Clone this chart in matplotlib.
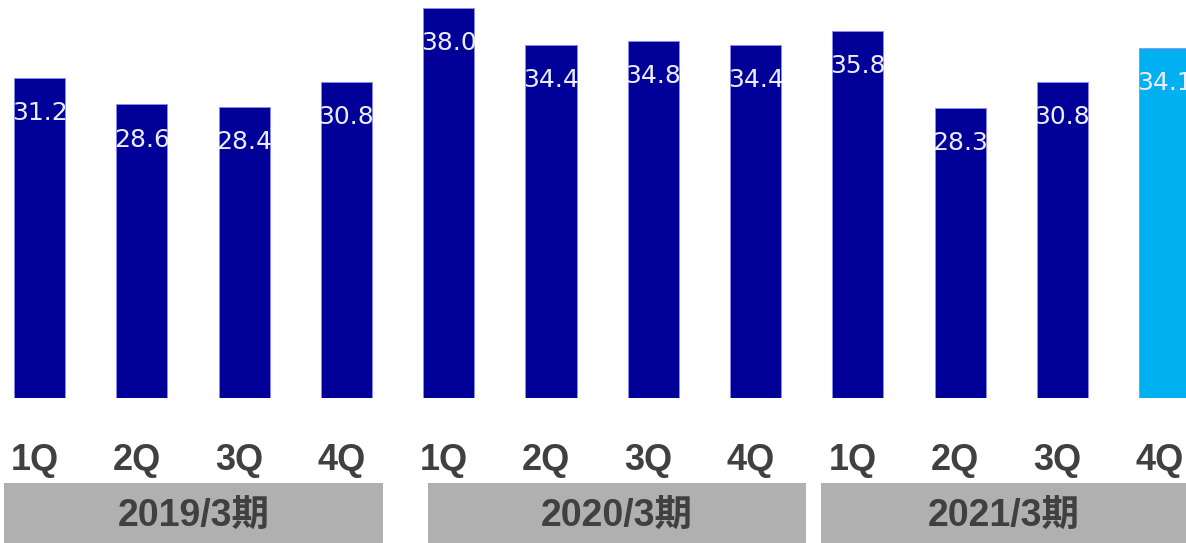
import numpy as np
import matplotlib.pyplot as plt
import matplotlib as mpl
from matplotlib.patches import Rectangle

# data
quarters = ['1Q', '2Q', '3Q', '4Q'] * 3
values = [31.2, 28.6, 28.4, 30.8, 38.0, 34.4, 34.8, 34.4, 35.8, 28.3, 30.8, 34.1]
years = ['2019/3期', '2020/3期', '2021/3期']
year_spans = [(-0.347, 3.358), (3.797, 7.493), (7.64, 11.3)]  # box edges in bar units

dark = '#000099'
light = '#00B0F0'
colors = [dark] * 11 + [light]

W, H = 1186, 543
fig = plt.figure(figsize=(W / 100, H / 100), dpi=100)
ax = fig.add_axes([0, 145 / H, 1, 398 / H])

x = np.arange(len(values))
ax.bar(x, values, width=0.5, color=colors, edgecolor='#8c8cf0', linewidth=0.6)
ax.set_xlim(-39.5 / 102.3, (W - 39.5) / 102.3)
ax.set_ylim(0, 38.0 * 398 / 390)
ax.axis('off')

# value labels inside the bars
for xi, v in zip(x, values):
    ax.annotate(f'{v:.1f}', (xi, v), xytext=(0, -25.5), textcoords='offset points',
                ha='center', va='center', fontsize=18, color='#ececff',
                family='DejaVu Sans', annotation_clip=False)

lab_font = ['Liberation Sans', 'Noto Sans CJK JP']
trans = mpl.transforms.blended_transform_factory(ax.transData, fig.transFigure)

# quarter labels
for xi, q in zip(x, quarters):
    ax.text(xi - 0.05, 83 / H, q, transform=trans, ha='center', va='center',
            fontsize=26, fontweight='bold', color='#404040', family=lab_font)

# year boxes
for (x0, x1), y in zip(year_spans, years):
    ax.add_patch(Rectangle((x0, 0), x1 - x0, 60 / H, transform=trans,
                           facecolor='#b0b0b0', edgecolor='none', clip_on=False))
    ax.text((x0 + min(x1, 11.207)) / 2, 26 / H, y, transform=trans, ha='center',
            va='center', fontsize=27, fontweight='bold', color='#404040', family=lab_font)

fig.savefig('out.png', dpi=100)
